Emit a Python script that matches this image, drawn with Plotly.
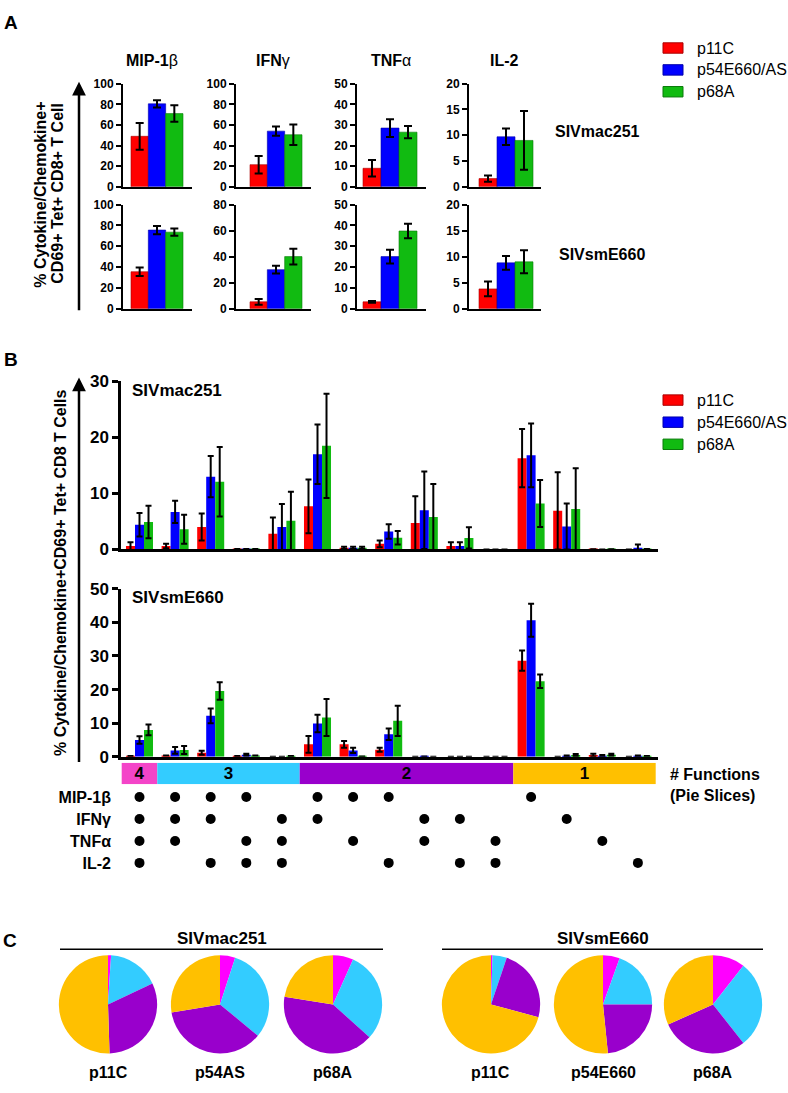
import plotly.graph_objects as go

W, H = 788, 1093
FONT = "Liberation Sans, Arial, Helvetica, sans-serif"


def px(x):
    return x / W


def py(y):
    return 1 - y / H


# ---------------- data ----------------
strains = ["p11C", "p54E660/AS", "p68A"]
strain_colors = ["#ff0000", "#0000ff", "#11bb11"]
strain_edges = ["#aa0000", "#0000aa", "#0a7a0a"]

a_cytokines = ["MIP-1β", "IFNγ", "TNFα", "IL-2"]
a_viruses = ["SIVmac251", "SIVsmE660"]
a_mac_mean = [[49, 80.5, 71], [21.5, 54, 50.5], [9, 28.5, 26.5], [1.6, 9.7, 9.0]]
a_mac_err = [[13, 3.5, 8], [8.5, 4.5, 10], [4, 4.3, 3], [0.6, 1.6, 5.7]]
a_sm_mean = [[35.5, 75.5, 73.5], [5.3, 30, 40], [3.3, 25, 37.3], [3.8, 8.8, 9.0]]
a_sm_err = [[4, 4, 3.5], [2.2, 3, 6], [0.4, 3.3, 3.5], [1.4, 1.3, 2.2]]
a_mac_ymax = [100, 100, 50, 20]
a_sm_ymax = [100, 80, 50, 20]
a_dtick = [20, 20, 10, 5]

functions = ["MIP-1β", "IFNγ", "TNFα", "IL-2"]
combos = [
    ["MIP-1β", "IFNγ", "TNFα", "IL-2"],
    ["MIP-1β", "IFNγ", "TNFα"],
    ["MIP-1β", "IFNγ", "IL-2"],
    ["MIP-1β", "TNFα", "IL-2"],
    ["IFNγ", "TNFα", "IL-2"],
    ["MIP-1β", "IFNγ"],
    ["MIP-1β", "TNFα"],
    ["MIP-1β", "IL-2"],
    ["IFNγ", "TNFα"],
    ["IFNγ", "IL-2"],
    ["TNFα", "IL-2"],
    ["MIP-1β"],
    ["IFNγ"],
    ["TNFα"],
    ["IL-2"],
]

b_mac_p11c = [0.6, 0.6, 4.0, 0.1, 2.8, 7.7, 0.3, 1.0, 4.7, 0.6, 0, 16.3, 6.9, 0.05, 0]
b_mac_p11c_err = [0.7, 0.4, 2.4, 0, 2.9, 4.8, 0.2, 0.6, 4.8, 0.7, 0, 5.2, 6.9, 0, 0]
b_mac_p54 = [4.4, 6.7, 13.0, 0.1, 4.0, 17.0, 0.3, 3.2, 7.0, 0.6, 0, 16.8, 4.1, 0, 0.3]
b_mac_p54_err = [2.1, 2.0, 3.7, 0, 4.1, 5.3, 0.2, 1.3, 6.9, 0.7, 0, 5.7, 4.1, 0, 0.6]
b_mac_p68 = [4.9, 3.6, 12.1, 0.1, 5.1, 18.5, 0.3, 2.1, 5.8, 2.05, 0, 8.2, 7.2, 0.05, 0.1]
b_mac_p68_err = [2.9, 2.6, 6.2, 0, 5.2, 9.3, 0.2, 1.2, 5.9, 1.9, 0, 4.2, 7.3, 0, 0]

b_sm_p11c = [0.2, 0.4, 1.2, 0.2, 0, 3.7, 3.7, 2.1, 0, 0, 0, 28.6, 0, 0.5, 0]
b_sm_p11c_err = [0, 0, 0.6, 0, 0, 2.5, 1.0, 0.6, 0, 0, 0, 3.0, 0, 0.4, 0]
b_sm_p54 = [5.0, 1.9, 12.2, 0.6, 0, 9.9, 1.9, 6.7, 0.1, 0, 0, 40.6, 0.2, 0.3, 0.2]
b_sm_p54_err = [1.1, 1.0, 2.2, 0.3, 0, 2.6, 0.8, 1.7, 0, 0, 0, 4.9, 0.2, 0.2, 0.2]
b_sm_p68 = [8.0, 2.0, 19.6, 0.4, 0.2, 11.7, 0.1, 10.7, 0, 0, 0, 22.5, 0.5, 0.6, 0.2]
b_sm_p68_err = [1.6, 1.2, 2.6, 0, 0, 5.5, 0, 4.5, 0, 0, 0, 2.0, 0.3, 0.3, 0]

band_colors = {4: "#f444c8", 3: "#33ccff", 2: "#9900cc", 1: "#ffc000"}

pie_labels = ["p11C", "p54AS", "p68A", "p11C", "p54E660", "p68A"]
pie_slices = ["4", "3", "2", "1"]
pie_colors = ["#ff00ff", "#33ccff", "#9900cc", "#ffc000"]
pie_mac_p11c = [1, 17, 31.5, 50.5]
pie_mac_p54 = [5, 31, 36.4, 27.6]
pie_mac_p68 = [6.7, 30, 40.8, 22.5]
pie_sm_p11c = [0.5, 4.7, 24, 70.8]
pie_sm_p54 = [5.5, 19.5, 23.4, 51.6]
pie_sm_p68 = [10.6, 28.8, 28.9, 31.7]

# ---------------- figure ----------------
fig = go.Figure()
layout = dict(
    width=W, height=H, autosize=False,
    margin=dict(l=0, r=0, t=0, b=0),
    paper_bgcolor="white", plot_bgcolor="rgba(0,0,0,0)",
    showlegend=False, barmode="overlay",
    font=dict(family=FONT, color="black"),
)
annotations = []
shapes = []
ax_count = [0]


def new_axes(xpx, ypx, xr, yr):
    ax_count[0] += 1
    n = ax_count[0]
    s = "" if n == 1 else str(n)
    layout["xaxis" + s] = dict(domain=[px(xpx[0]), px(xpx[1])], range=xr, anchor="y" + s,
                               showgrid=False, zeroline=False, showticklabels=False,
                               ticks="", fixedrange=True)
    layout["yaxis" + s] = dict(domain=[py(ypx[1]), py(ypx[0])], range=yr, anchor="x" + s,
                               showgrid=False, zeroline=False, fixedrange=True)
    return "x" + s, "y" + s, s


def text(x, y, t, size, bold=True, xanchor="center", angle=0):
    annotations.append(dict(x=px(x), y=py(y), xref="paper", yref="paper", text=t,
                            showarrow=False, xanchor=xanchor, yanchor="middle",
                            textangle=angle,
                            font=dict(size=size, family=FONT, color="black",
                                      weight="bold" if bold else "normal")))


# ----- Panel A -----
col_axis_left = [123, 236, 357, 469]
col_axis_right = [192, 311, 426, 541]
col_bar_left = [131, 250, 363, 479]
col_bar_right = [183, 302, 417, 533]
row_top = [76, 199]
row_bottom = [181, 305]

a_rows = [(a_mac_mean, a_mac_err, a_mac_ymax), (a_sm_mean, a_sm_err, a_sm_ymax)]
for r, (means, errs, ymaxs) in enumerate(a_rows):
    for c in range(4):
        bw = (col_bar_right[c] - col_bar_left[c]) / 3
        xr = [-0.5 - (col_bar_left[c] - col_axis_left[c]) / bw,
              2.5 + (col_axis_right[c] - col_bar_right[c]) / bw]
        xa, ya, s = new_axes((col_axis_left[c], col_axis_right[c]), (row_top[r], row_bottom[r]),
                             xr, [0, ymaxs[c]])
        layout["xaxis" + s].update(showline=True, linecolor="black", linewidth=2)
        layout["yaxis" + s].update(showline=True, linecolor="black", linewidth=2,
                                   ticks="outside", ticklen=5, tickwidth=2, tickcolor="black",
                                   tick0=0, dtick=a_dtick[c],
                                   tickfont=dict(size=12, family=FONT, weight="bold"))
        fig.add_trace(go.Bar(
            x=list(range(len(strains))), y=means[c], width=1,
            marker=dict(color=strain_colors, line=dict(color=strain_edges, width=0.6)),
            error_y=dict(type="data", array=errs[c], color="black", thickness=2, width=4),
            xaxis=xa, yaxis=ya, hoverinfo="skip"))

title_x = [152, 273, 391, 505]
for c, name in enumerate(a_cytokines):
    base, greek = (name[:-1], name[-1]) if name[-1] in "βγα" else (name, "")
    t = "<b>" + base + "</b>" + greek
    annotations.append(dict(x=px(title_x[c]), y=py(52), xref="paper", yref="paper", text=t,
                            showarrow=False, xanchor="center", yanchor="middle",
                            font=dict(size=16, family=FONT, color="black", weight="normal")))

text(553, 125, a_viruses[0], 16, xanchor="left")
text(557, 250, a_viruses[1], 16, xanchor="left")
text(11, 14, "A", 19)
text(41, 189, "% Cytokine/Chemokine+", 16, angle=-90)
text(58, 188, "CD69+ Tet+ CD8+ T Cell", 16, angle=-90)


def arrow(x, y_top, y_bot):
    annotations.append(dict(x=px(x), y=py(y_top), ax=0, ay=y_bot - y_top, xref="paper", yref="paper",
                            axref="pixel", ayref="pixel", text="", showarrow=True,
                            arrowhead=2, arrowsize=1.1, arrowwidth=2.5, arrowcolor="black"))


arrow(79, 74, 304)


def legend(ycs):
    for name, col, edge, yc in zip(strains, strain_colors, strain_edges, ycs):
        shapes.append(dict(type="rect", xref="paper", yref="paper", x0=px(663), x1=px(683),
                           y0=py(yc + 5.3), y1=py(yc - 5.3), fillcolor=col,
                           line=dict(color=edge, width=1)))
        text(695, yc, name, 16, bold=False, xanchor="left")


legend([39.7, 62, 84.2])

# ----- Panel B -----
b_left, b_right = 121, 658
b_c0, b_step = 139.5, 35.6
xr_b = [-(b_c0 - b_left) / b_step, (b_right - b_c0) / b_step]
n_cat = len(combos)
bar_w = 0.253
offsets = [-1.5 * bar_w, -0.5 * bar_w, 0.5 * bar_w]

b_sets = [
    ("SIVmac251", [b_mac_p11c, b_mac_p54, b_mac_p68], [b_mac_p11c_err, b_mac_p54_err, b_mac_p68_err],
     30, (379, 550)),
    ("SIVsmE660", [b_sm_p11c, b_sm_p54, b_sm_p68], [b_sm_p11c_err, b_sm_p54_err, b_sm_p68_err],
     50, (590, 761)),
]
for name, vals, errs, ymax, ypx in b_sets:
    xa, ya, s = new_axes((b_left, b_right), ypx, xr_b, [0, ymax])
    layout["xaxis" + s].update(showline=True, linecolor="black", linewidth=2.5)
    layout["yaxis" + s].update(showline=True, linecolor="black", linewidth=2.5,
                               ticks="outside", ticklen=6, tickwidth=2.5, tickcolor="black",
                               tick0=0, dtick=10,
                               tickfont=dict(size=17, family=FONT, weight="bold"))
    for k in range(len(strains)):
        fig.add_trace(go.Bar(
            x=list(range(n_cat)), y=vals[k], width=bar_w, offset=offsets[k],
            marker=dict(color=strain_colors[k], line=dict(width=0)),
            error_y=dict(type="data", array=errs[k], color="black", thickness=2, width=3),
            xaxis=xa, yaxis=ya, hoverinfo="skip"))
    text(130, ypx[0] + 9, name, 17, xanchor="left")

text(11, 357, "B", 19)
text(60, 574, "% Cytokine/Chemokine+CD69+ Tet+ CD8 T Cells", 16, angle=-90)
arrow(79, 375, 761)
legend([398, 420.5, 443])

# function band (derived from combos)
nfun = [len(c) for c in combos]
band_n, band_start, band_w = [], [], []
for i, n in enumerate(nfun):
    if not band_n or band_n[-1] != n:
        band_n.append(n)
        band_start.append(i)
        band_w.append(0)
    band_w[-1] += 1
xa, ya, s = new_axes((b_left, b_right), (767, 789), xr_b, [0, 1])
layout["yaxis" + s].update(showticklabels=False, ticks="")
fig.add_trace(go.Bar(
    x=[st + w / 2 - 0.5 for st, w in zip(band_start, band_w)], y=[1] * len(band_n), width=band_w,
    marker=dict(color=[band_colors[n] for n in band_n], line=dict(width=0)),
    text=[str(n) for n in band_n], textposition="inside", insidetextanchor="middle",
    constraintext="none", textangle=0,
    textfont=dict(size=17, family=FONT, color="black", weight="bold"),
    xaxis=xa, yaxis=ya, hoverinfo="skip"))
text(668, 779, "# Functions", 16, xanchor="left")
text(668, 800, "(Pie Slices)", 16, xanchor="left")

# dot matrix
dot_x, dot_y = [], []
for i, cmb in enumerate(combos):
    for f in cmb:
        dot_x.append(i)
        dot_y.append(functions.index(f))
row_step = (869 - 802) / 3
xa, ya, s = new_axes((b_left, b_right), (802 - row_step / 2, 869 + row_step / 2), xr_b,
                     [len(functions) - 0.5, -0.5])
layout["yaxis" + s].update(tickvals=list(range(len(functions))), ticktext=functions,
                           ticks="", ticklabelstandoff=9,
                           tickfont=dict(size=16, family=FONT, weight="bold"))
fig.add_trace(go.Scatter(x=dot_x, y=dot_y, mode="markers",
                         marker=dict(size=10, color="black"),
                         xaxis=xa, yaxis=ya, hoverinfo="skip"))

# ----- Panel C -----
text(10, 948, "C", 19)
pie_vals = [pie_mac_p11c, pie_mac_p54, pie_mac_p68, pie_sm_p11c, pie_sm_p54, pie_sm_p68]
pie_cx = [108, 220, 333, 491, 603, 713]
pie_cy, pie_r = 1013, 50
for lab, vals, cx in zip(pie_labels, pie_vals, pie_cx):
    fig.add_trace(go.Pie(
        values=vals, labels=pie_slices, sort=False, direction="clockwise", rotation=0,
        marker=dict(colors=pie_colors, line=dict(width=0)), textinfo="none",
        hoverinfo="skip", showlegend=False,
        domain=dict(x=[px(cx - pie_r), px(cx + pie_r)], y=[py(pie_cy + pie_r), py(pie_cy - pie_r)])))
    text(cx, 1082, lab, 16)

for grp, x0, x1 in [("SIVmac251", 60, 383), ("SIVsmE660", 442, 763)]:
    text((x0 + x1) / 2, 946, grp, 17)
    shapes.append(dict(type="line", xref="paper", yref="paper", x0=px(x0), x1=px(x1),
                       y0=py(957), y1=py(957), line=dict(color="black", width=1.5)))

layout["annotations"] = annotations
layout["shapes"] = shapes
fig.update_layout(**layout)

fig.write_html("out.html", include_plotlyjs=True, config={"displayModeBar": False},
               post_script="document.body.style.margin='0';document.body.style.overflow='hidden';")
